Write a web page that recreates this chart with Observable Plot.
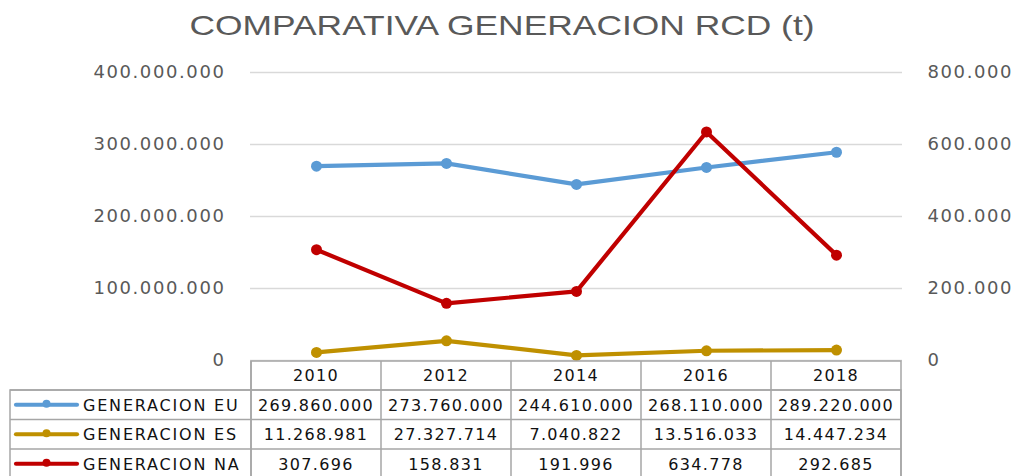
<!DOCTYPE html>
<html><head><meta charset="utf-8">
<script src="https://cdn.jsdelivr.net/npm/d3@7"></script>
<script src="https://cdn.jsdelivr.net/npm/@observablehq/plot@0.6"></script>
<style>
body{margin:0;background:#fff;}
#wrap{position:relative;width:1016px;height:476px;overflow:hidden;}
#title,#chart,#table{position:absolute;left:0;top:0;}
</style></head><body>
<div id="wrap">
<div id="chart"></div>
<svg id="title" width="1016" height="60"><text x="502" y="35" text-anchor="middle" textLength="625" lengthAdjust="spacingAndGlyphs" fill="#595959" font-size="28" font-family="Liberation Sans Narrow, Liberation Sans">COMPARATIVA GENERACION RCD (t)</text></svg>
<svg id="table" width="1016" height="476"></svg>
</div>
<script>
const years = ["2010","2012","2014","2016","2018"];
const seriesNames = ["GENERACION EU","GENERACION ES","GENERACION NA"];
const genEU = [269860000,273760000,244610000,268110000,289220000];
const genES = [11268981,27327714,7040822,13516033,14447234];
const genNA = [307696,158831,191996,634778,292685];
const leftTicks = [0,100000000,200000000,300000000,400000000];
const rightTicks = [0,200000,400000,600000,800000];
const colors = ["#5b9bd5","#bf9000","#c00000"];

const ratio = leftTicks[leftTicks.length-1] / rightTicks[rightTicks.length-1];
const fmt = d3.formatLocale({decimal:",",thousands:".",grouping:[3],currency:["",""]}).format(",d");

const seriesVals = [genEU, genES, genNA];
const rows = [];
seriesNames.forEach((s,si)=>{
  years.forEach((yr,i)=>{
    const raw = seriesVals[si][i];
    rows.push({year:yr, series:s, raw, v: si===2 ? raw*ratio : raw});
  });
});

const chart = Plot.plot({
  width:1016, height:372,
  marginTop:72, marginBottom:12, marginLeft:250, marginRight:114,
  style:{fontFamily:"DejaVu Sans", fontSize:"18px", background:"transparent", letterSpacing:"1.6px"},
  x:{type:"point", domain:years, padding:0.5, axis:null},
  y:{domain:[0,leftTicks[leftTicks.length-1]], axis:null},
  color:{domain:seriesNames, range:colors},
  marks:[
    Plot.gridY(leftTicks, {stroke:"#d9d9d9", strokeOpacity:1, strokeWidth:1.3}),
    Plot.axisY(leftTicks, {anchor:"left", label:null, tickSize:0, tickPadding:25, tickFormat:fmt, fill:"#595959", fontSize:18}),
    Plot.axisY(rightTicks.map(d=>d*ratio), {anchor:"right", label:null, tickSize:0, tickPadding:25, tickFormat:d=>fmt(d/ratio), fill:"#595959", fontSize:18}),
    Plot.line(rows, {x:"year", y:"v", z:"series", stroke:"series", strokeWidth:4.2}),
    Plot.dot(rows, {x:"year", y:"v", fill:"series", r:5.5})
  ]
});
document.getElementById("chart").appendChild(chart);

// data table below the plot, aligned with the plot's x scale
const xs = chart.scale("x");
const step = xs.apply(years[1]) - xs.apply(years[0]);
const centers = years.map(y=>xs.apply(y));
const x0 = centers[0]-step/2, x1 = centers[centers.length-1]+step/2;
const rowTop = [361, 390, 419.5, 449, 478.5];
const tsvg = d3.select("#table");
const border = "#a6a6a6";
const g = tsvg.append("g").attr("font-family","DejaVu Sans").attr("font-size",16).attr("letter-spacing","1.3px").attr("fill","#111");
g.append("rect").attr("x",x0).attr("y",rowTop[0]).attr("width",x1-x0).attr("height",rowTop[4]-rowTop[0]).attr("fill","none").attr("stroke",border).attr("stroke-width",1.5);
g.append("rect").attr("x",10).attr("y",rowTop[1]).attr("width",x1-10).attr("height",rowTop[4]-rowTop[1]).attr("fill","none").attr("stroke",border).attr("stroke-width",1.5);
for(let r=1;r<4;r++){
  g.append("line").attr("x1",10).attr("x2",x1).attr("y1",rowTop[r]).attr("y2",rowTop[r]).attr("stroke",border).attr("stroke-width",1.5);
}
years.forEach((yr,i)=>{
  g.append("line").attr("x1",centers[i]-step/2).attr("x2",centers[i]-step/2).attr("y1",rowTop[0]).attr("y2",rowTop[4]).attr("stroke",border).attr("stroke-width",1.5);
  g.append("text").attr("x",centers[i]).attr("y",(rowTop[0]+rowTop[1])/2).attr("dy","0.36em").attr("text-anchor","middle").text(yr);
});
seriesNames.forEach((s,si)=>{
  const yc = (rowTop[si+1]+rowTop[si+2])/2;
  g.append("line").attr("x1",16).attr("x2",77).attr("y1",yc).attr("y2",yc).attr("stroke",colors[si]).attr("stroke-width",4.2).attr("stroke-linecap","round");
  g.append("circle").attr("cx",46.5).attr("cy",yc-1).attr("r",4).attr("fill",colors[si]);
  g.append("text").attr("x",83).attr("y",yc).attr("dy","0.36em").attr("letter-spacing","1.8px").text(s);
  years.forEach((yr,i)=>{
    g.append("text").attr("x",centers[i]).attr("y",yc).attr("dy","0.36em").attr("text-anchor","middle").text(fmt(seriesVals[si][i]));
  });
});
</script>
</body></html>
